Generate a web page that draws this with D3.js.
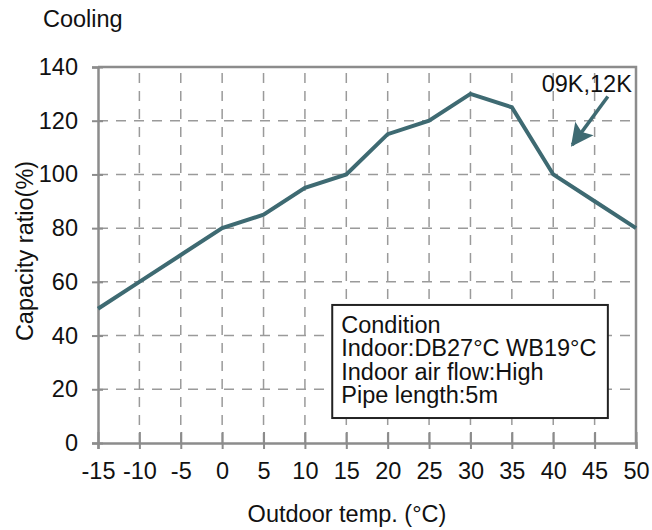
<!DOCTYPE html>
<meta charset="utf-8">
<style>
body { margin: 0; background: #fff; }
text { font-family: "Liberation Sans", Arial, sans-serif; fill: #111; }
</style>
<body>
<script src="https://cdn.jsdelivr.net/npm/d3@7"></script>
<script>

var temps = [-15, -10, -5, 0, 5, 10, 15, 20, 25, 30, 35, 40, 45, 50];
var ratios = [50, 60, 70, 80, 85, 95, 100, 115, 120, 130, 125, 100, 90, 80];
var xTicks = [-15, -10, -5, 0, 5, 10, 15, 20, 25, 30, 35, 40, 45, 50];
var yTicks = [0, 20, 40, 60, 80, 100, 120, 140];
var conditionLines = ["Condition", "Indoor:DB27°C WB19°C", "Indoor air flow:High", "Pipe length:5m"];

var width = 652,
    height = 530,
    margin = {left: 98, right: 16, top: 67, bottom: 87};

var lineColor = "#3e6a72",
    axisColor = "#8c8c8c",
    fontSize = "23.5px";

var svg = d3.select("body").append("svg")
    .attr("width", width)
    .attr("height", height);

var x = d3.scaleLinear().domain([-15, 50]).range([margin.left, width - margin.right]);
var y = d3.scaleLinear().domain([0, 140]).range([height - margin.bottom, margin.top]);

// dashed grid
svg.append("g").selectAll("line")
    .data(xTicks.slice(1, -1))
  .enter().append("line")
    .attr("x1", x).attr("x2", x)
    .attr("y1", y(0)).attr("y2", y(140))
    .attr("stroke", "#9a9a9a")
    .attr("stroke-width", 1.5)
    .attr("stroke-dasharray", "10,8");

svg.append("g").selectAll("line")
    .data(yTicks.slice(1, -1))
  .enter().append("line")
    .attr("y1", y).attr("y2", y)
    .attr("x1", x(-15)).attr("x2", x(50))
    .attr("stroke", "#9a9a9a")
    .attr("stroke-width", 1.5)
    .attr("stroke-dasharray", "10,8");

// top and right border
svg.append("path")
    .attr("d", "M" + x(-15) + "," + y(140) + "H" + x(50) + "V" + y(0))
    .attr("fill", "none")
    .attr("stroke", axisColor)
    .attr("stroke-width", 2.5);

// axes
var xAxis = svg.append("g")
    .attr("transform", "translate(0," + y(0) + ")")
    .call(d3.axisBottom(x).tickValues(xTicks).tickFormat(String).tickSize(6).tickPadding(13));

var yAxis = svg.append("g")
    .attr("transform", "translate(" + x(-15) + ",0)")
    .call(d3.axisLeft(y).tickValues(yTicks).tickFormat(String).tickSize(6).tickPadding(14));

[xAxis, yAxis].forEach(function(g) {
  g.select(".domain").attr("stroke", axisColor).attr("stroke-width", 2.5);
  g.selectAll(".tick line").attr("stroke", axisColor).attr("stroke-width", 2);
  g.selectAll(".tick text")
      .style("font-family", "'Liberation Sans', Arial, sans-serif")
      .style("font-size", fontSize)
      .attr("fill", "#111");
});
xAxis.selectAll(".tick line").attr("y1", -11);
yAxis.selectAll(".tick line").attr("x1", 5);

// data line
svg.append("path")
    .datum(temps.map(function(t, i) { return [t, ratios[i]]; }))
    .attr("fill", "none")
    .attr("stroke", lineColor)
    .attr("stroke-width", 4)
    .attr("d", d3.line().x(function(d) { return x(d[0]); }).y(function(d) { return y(d[1]); }));

// annotation arrow
svg.append("defs").append("marker")
    .attr("id", "head")
    .attr("viewBox", "0 0 10 10")
    .attr("refX", 9).attr("refY", 5)
    .attr("markerWidth", 6.5).attr("markerHeight", 7)
    .attr("markerUnits", "strokeWidth")
    .attr("orient", "auto")
  .append("path")
    .attr("d", "M0,0L10,5L0,10L2,5Z")
    .attr("fill", lineColor);

svg.append("line")
    .attr("x1", x(46.6)).attr("y1", y(129))
    .attr("x2", x(42.3)).attr("y2", y(111))
    .attr("stroke", lineColor)
    .attr("stroke-width", 3.5)
    .attr("marker-end", "url(#head)");

svg.append("text")
    .attr("x", x(49.5)).attr("y", y(130.7))
    .attr("text-anchor", "end")
    .style("font-size", fontSize)
    .text("09K,12K");

// condition box
svg.append("rect")
    .attr("x", x(13.3)).attr("y", y(51.4))
    .attr("width", x(46.6) - x(13.3))
    .attr("height", y(9.3) - y(51.4))
    .attr("fill", "#fff")
    .attr("stroke", "#222")
    .attr("stroke-width", 2);

svg.append("g").selectAll("text")
    .data(conditionLines)
  .enter().append("text")
    .attr("x", x(13.3) + 9)
    .attr("y", function(d, i) { return y(51.4) + 28 + i * 23.5; })
    .style("font-size", fontSize)
    .text(function(d) { return d; });

// titles
svg.append("text")
    .attr("x", 43).attr("y", 27)
    .style("font-size", fontSize)
    .text("Cooling");

svg.append("text")
    .attr("x", (x(-15) + x(50)) / 2 - 20).attr("y", 522)
    .attr("text-anchor", "middle")
    .style("font-size", fontSize)
    .text("Outdoor temp. (°C)");

svg.append("text")
    .attr("transform", "translate(33,251) rotate(-90)")
    .attr("text-anchor", "middle")
    .style("font-size", fontSize)
    .text("Capacity ratio(%)");

</script>
</body>
